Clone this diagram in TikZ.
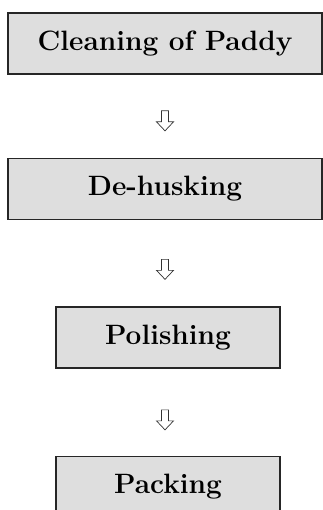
\documentclass[tikz,border=0pt]{standalone}
\usepackage{fontspec}
\usepackage{tikz}
\usetikzlibrary{calc}

\begin{document}
\begin{tikzpicture}[x=1pt, y=1pt,
  stage/.style={draw=black!85, fill=black!13, line width=1.3pt, minimum height=61pt,
    inner sep=0pt, font=\fontsize{28}{32}\selectfont\bfseries},
  hollowdown/.pic={\draw[black!80, line width=0.7pt, fill=white]
    (-3.5,11) -- (-3.5,0) -- (-8.5,0) -- (0,-9) -- (8.5,0) -- (3.5,0) -- (3.5,11) -- cycle;}]
\clip (0,0) rectangle (323,-510);
\node[stage, minimum width=314pt] (clean) at (165,-43.5) {Cleaning of Paddy};
\node[stage, minimum width=314pt] (dehusk) at (165,-189) {De-husking};
\node[stage, minimum width=224pt] (polish) at (168,-337.5) {Polishing};
\node[stage, minimum width=224pt] (pack) at (168,-487) {Packing};
\pic at ($(dehusk.north)+(0,36)$) {hollowdown};
\pic at ($(polish.north)+(-3,36)$) {hollowdown};
\pic at ($(pack.north)+(-3,35)$) {hollowdown};
\end{tikzpicture}
\end{document}
